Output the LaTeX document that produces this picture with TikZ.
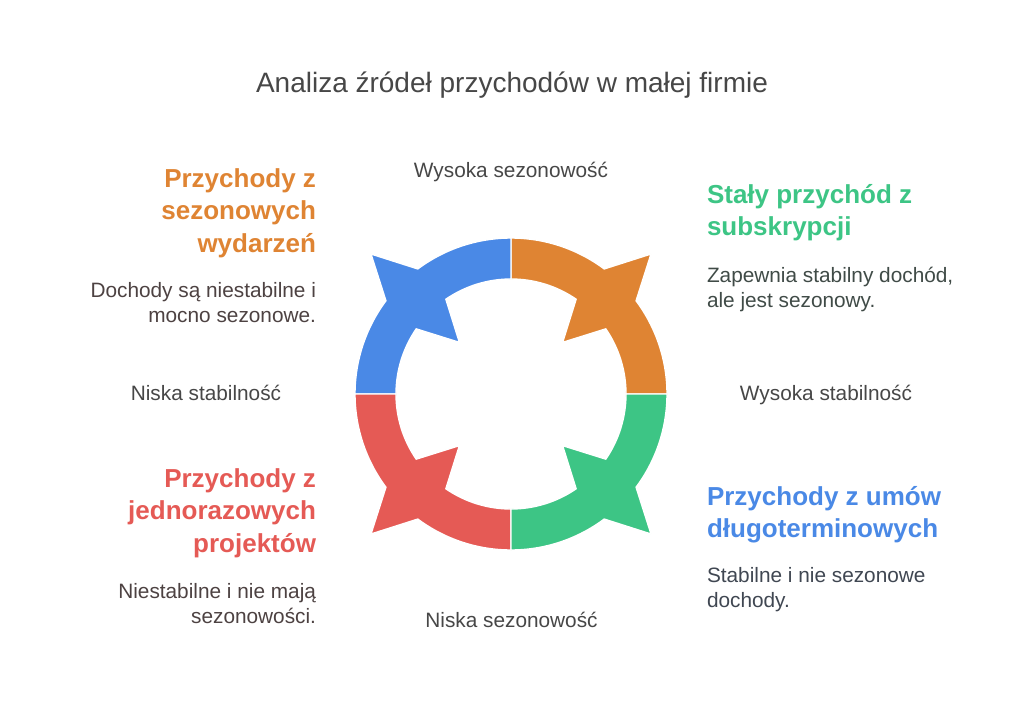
\documentclass[tikz,border=0pt]{standalone}
\usepackage{fontspec}
\setmainfont{Liberation Sans}
\definecolor{cOrange}{HTML}{DF8433}
\definecolor{cGreen}{HTML}{3DC585}
\definecolor{cBlue}{HTML}{4A89E6}
\definecolor{cRed}{HTML}{E55A55}
\definecolor{cTitle}{HTML}{474747}
\definecolor{cBrown}{HTML}{4D4242}
\definecolor{cGreenTxt}{HTML}{404B47}
\definecolor{cBlueTxt}{HTML}{404752}
\tikzset{
  lbl/.style={inner sep=0pt, outer sep=0pt},
  ttl/.style={lbl, text=cTitle, font=\fontsize{28}{32}\selectfont},
  axis/.style={lbl, text=cTitle, font=\fontsize{20.8}{24}\selectfont},
  head/.style={lbl, font=\fontsize{26}{30}\bfseries\selectfont},
  body/.style={lbl, font=\fontsize{20.8}{24}\selectfont},
  seg/.style={draw=white, line width=1.4pt, line join=miter},
}
\begin{document}
\begin{tikzpicture}[x=1pt, y=-1pt]
\useasboundingbox (0,0) rectangle (1024,722);
\fill[white] (0,0) rectangle (1024,722);

% ring
\begin{scope}[shift={(511,394)}, yscale=-1]
\foreach \a/\c in {45/cOrange,135/cBlue,225/cRed,315/cGreen}{
  \path[seg, fill=\c]
    ({\a-45}:156) arc[start angle=\a-45, end angle=\a-8.3, radius=156]
    -- (\a:198)
    -- ({\a+8.3}:156) arc[start angle=\a+8.3, end angle=\a+45, radius=156]
    -- ({\a+45}:115) arc[start angle=\a+45, end angle=\a+10.5, radius=115]
    -- (\a:73)
    -- ({\a-10.5}:115) arc[start angle=\a-10.5, end angle=\a-45, radius=115]
    -- cycle;
}
\end{scope}

% title and axes
\node[ttl, anchor=base] (title) at (512,93) {Analiza źródeł przychodów w małej firmie};
\node[axis, anchor=base] (hiSeas) at (511,177) {Wysoka sezonowość};
\node[axis, anchor=base] (loSeas) at (511.5,627) {Niska sezonowość};
\node[axis, anchor=base] (loStab) at (206,400) {Niska stabilność};
\node[axis, anchor=base] (hiStab) at (826,400) {Wysoka stabilność};

% orange (top left)
\node[head, text=cOrange, anchor=base east] (o1) at (316,187) {Przychody z};
\node[head, text=cOrange, anchor=base east] (o2) at (316,219.5) {sezonowych};
\node[head, text=cOrange, anchor=base east] (o3) at (316,252) {wydarzeń};
\node[body, text=cBrown, anchor=base east] (ob1) at (316,297) {Dochody są niestabilne i};
\node[body, text=cBrown, anchor=base east] (ob2) at (316,322) {mocno sezonowe.};

% green (top right)
\node[head, text=cGreen, anchor=base west] (g1) at (707,203) {Stały przychód z};
\node[head, text=cGreen, anchor=base west] (g2) at (707,235.5) {subskrypcji};
\node[body, text=cGreenTxt, anchor=base west] (gb1) at (707,282) {Zapewnia stabilny dochód,};
\node[body, text=cGreenTxt, anchor=base west] (gb2) at (707,307) {ale jest sezonowy.};

% red (bottom left)
\node[head, text=cRed, anchor=base east] (r1) at (316,487) {Przychody z};
\node[head, text=cRed, anchor=base east] (r2) at (316,519.5) {jednorazowych};
\node[head, text=cRed, anchor=base east] (r3) at (316,552) {projektów};
\node[body, text=cBrown, anchor=base east] (rb1) at (316,598) {Niestabilne i nie mają};
\node[body, text=cBrown, anchor=base east] (rb2) at (316,623) {sezonowości.};

% blue (bottom right)
\node[head, text=cBlue, anchor=base west] (b1) at (707,505) {Przychody z umów};
\node[head, text=cBlue, anchor=base west] (b2) at (707,537.5) {długoterminowych};
\node[body, text=cBlueTxt, anchor=base west] (bb1) at (707,582) {Stabilne i nie sezonowe};
\node[body, text=cBlueTxt, anchor=base west] (bb2) at (707,607) {dochody.};
\end{tikzpicture}
\end{document}
